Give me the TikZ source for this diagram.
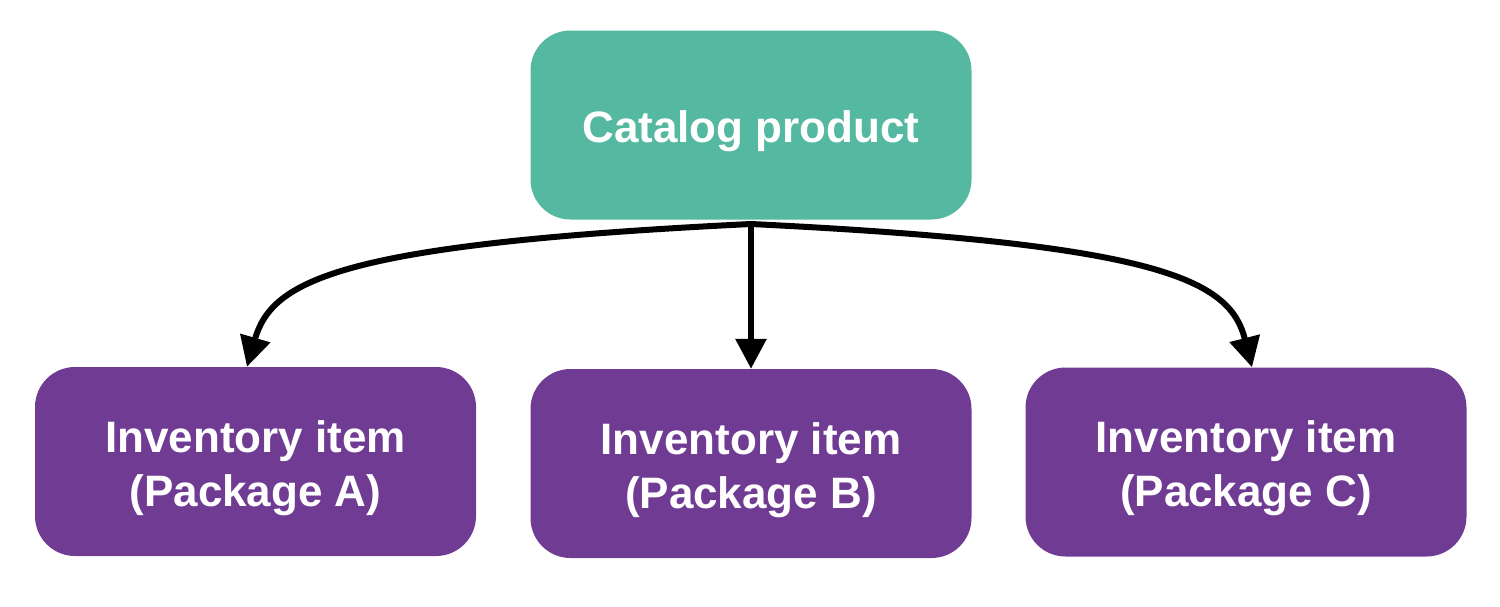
\documentclass[tikz,border=0pt]{standalone}
\usepackage{fontspec}
\setmainfont{Liberation Sans}
\usetikzlibrary{arrows.meta}
\definecolor{tealbox}{HTML}{55B8A0}
\definecolor{purplebox}{HTML}{703C93}
\newcommand{\boxtext}[1]{\raisebox{-7pt}[\height][\depth]{\begin{tabular}{@{}c@{}}#1\end{tabular}}}
\tikzset{
  box/.style={rectangle, rounded corners=40pt, minimum width=441pt, minimum height=189pt,
    inner sep=0pt, text=white, align=center,
    font=\fontsize{44}{54}\selectfont\bfseries},
  topbox/.style={box, fill=tealbox},
  itembox/.style={box, fill=purplebox},
  conn/.style={draw=black, line width=6pt, -{Triangle[length=30pt,width=30pt]}}
}
\begin{document}
\begin{tikzpicture}[x=1pt,y=-1pt]
\useasboundingbox (0,0) rectangle (1500,606);
\node[topbox] (cat) at (751,125) {\boxtext{Catalog product}};
\node[itembox] (a) at (255.5,461.5) {\boxtext{Inventory item\\(Package A)}};
\node[itembox] (b) at (751,463.5) {\boxtext{Inventory item\\(Package B)}};
\node[itembox] (c) at (1246,462) {\boxtext{Inventory item\\(Package C)}};
\coordinate (s) at (751,224);
\draw[conn] (s) .. controls (340,244) and (272,280) .. (a.north -| 247,0);
\draw[conn] (s) -- (b.north);
\draw[conn] (s) .. controls (1162,244) and (1230,280) .. (c.north -| 1252,0);
\end{tikzpicture}
\end{document}
